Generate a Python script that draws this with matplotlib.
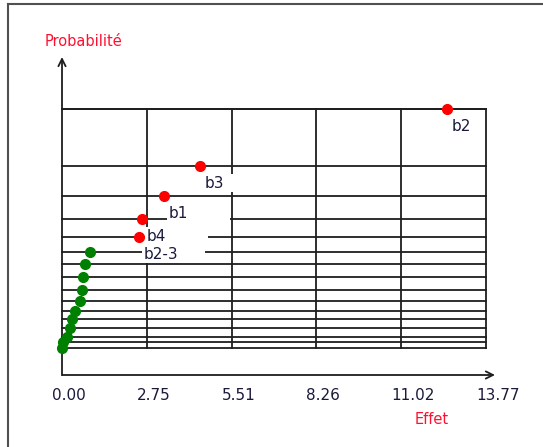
import matplotlib.pyplot as plt
from matplotlib.patches import Rectangle
from matplotlib.transforms import ScaledTranslation

# effets nommes (rouge) et effets non significatifs (vert)
noms_rouge = ['b2', 'b3', 'b1', 'b4', 'b2-3']
effet_rouge = [12.50, 4.48, 3.31, 2.60, 2.50]
proba_rouge = [100.0, 78.6, 67.3, 58.6, 51.9]

effet_vert = [0.91, 0.75, 0.69, 0.64, 0.58, 0.42, 0.32, 0.26, 0.15, 0.04, 0.00]
proba_vert = [46.2, 41.7, 36.8, 32.0, 27.8, 24.1, 21.1, 17.7, 14.3, 12.4, 10.2]

graduations = [0.00, 2.75, 5.51, 8.26, 11.02, 13.77]

W, H = 543, 447
fig = plt.figure(figsize=(W / 100, H / 100), dpi=100)
ax = fig.add_axes([0, 0, 1, 1])
ax.set_axis_off()
# 1 unite en x = 30.79 px, 1 unite en y = 2.66 px, origine a (62, 375)
ax.set_xlim(-62 / 30.79, (W - 62) / 30.79)
ax.set_ylim(-(H - 375) / 2.66, 375 / 2.66)

trait = '#1e1e1e'
texte = '#1a1a3a'
xmax = graduations[-1]
ybas = min(proba_vert)
yhaut = max(proba_rouge)

# cadre de la fenetre
fig.add_artist(plt.Line2D([8 / W, 8 / W], [0, 1 - 4 / H], color='#505050', lw=1.5))
fig.add_artist(plt.Line2D([8 / W, 1], [1 - 4 / H, 1 - 4 / H], color='#505050', lw=1.5))

# lignes verticales de la grille
for g in graduations[1:-1]:
    ax.plot([g, g], [ybas, yhaut], color=trait, lw=1.3, zorder=1)
ax.plot([xmax, xmax], [ybas, yhaut], color=trait, lw=1.3, zorder=50)
ax.plot([0, xmax], [yhaut, yhaut], color=trait, lw=1.3, zorder=50)

# une ligne horizontale par point, du bas vers le haut, etiquette avec fond blanc
points = [(p, e, None) for e, p in zip(effet_vert, proba_vert)]
points += [(p, e, n) for e, p, n in zip(effet_rouge, proba_rouge, noms_rouge)]
points.sort()
z = 2
for p, e, nom in points:
    ax.plot([0, xmax], [p, p], color=trait, lw=1.3, zorder=z)
    z += 1
    if nom is not None:
        tr = fig.dpi_scale_trans + ScaledTranslation(e, p, ax.transData)
        ax.add_patch(Rectangle((0.03, -0.265), 0.63, 0.185, transform=tr,
                               facecolor='white', edgecolor='none', zorder=z))
        ax.annotate(nom, (e, p), xytext=(5, -17.5), textcoords='offset pixels',
                    ha='left', va='center', fontsize=11, color=texte, zorder=60)
        z += 1

ax.plot(effet_vert, proba_vert, 'o', color='#008000', ms=7, mec='#008000', zorder=70)
ax.plot(effet_rouge, proba_rouge, 'o', color='#ff0000', ms=7, mec='#ff0000', zorder=70)

# axes avec fleches
fleche = dict(arrowstyle='->', lw=1.3, color=trait, shrinkA=0, shrinkB=0, mutation_scale=13)
ax.annotate('', xy=(0, 318 / 2.66), xytext=(0, 0), arrowprops=fleche)
ax.annotate('', xy=(433 / 30.79, 0), xytext=(0, 0), arrowprops=fleche)

for g in graduations:
    ax.annotate(f'{g:.2f}', (g, 0), xytext=(-10, -20), textcoords='offset pixels',
                ha='left', va='center', fontsize=11, color=texte)

fig.text(83.5 / W, 1 - 42 / H, 'Probabilité', color='#ff1030', fontsize=10.5,
         ha='center', va='center')
fig.text(432 / W, 1 - 419 / H, 'Effet', color='#ff1030', fontsize=10.5,
         ha='center', va='center')

fig.savefig('out.png', dpi=100)
